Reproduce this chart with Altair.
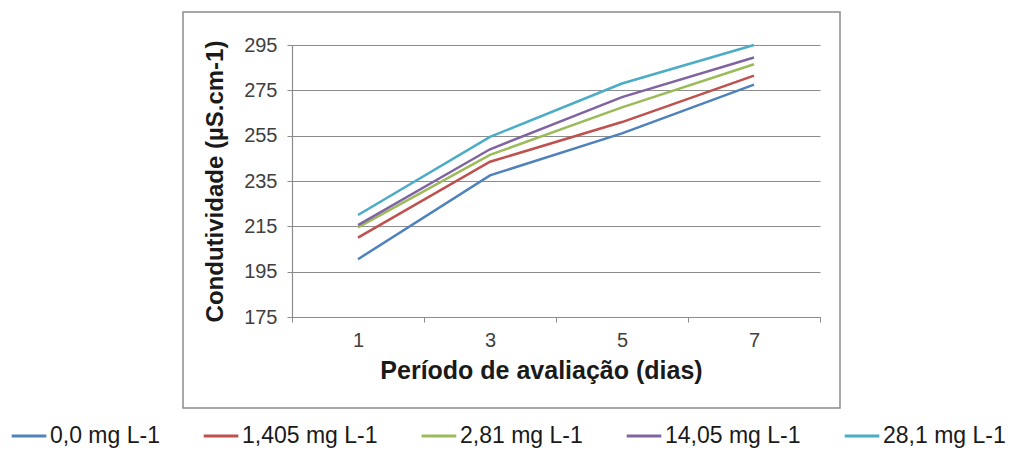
import altair as alt
import pandas as pd

days = [1, 3, 5, 7]
series_names = ["0,0 mg L-1", "1,405 mg L-1", "2,81 mg L-1", "14,05 mg L-1", "28,1 mg L-1"]
colors = ["#4F81BD", "#C0504D", "#9BBB59", "#8064A2", "#4BACC6"]
v_00 = [200.5, 237.5, 256.0, 277.5]
v_1405 = [210.0, 243.5, 261.0, 281.5]
v_281 = [214.5, 246.5, 267.5, 286.5]
v_1405b = [215.5, 249.0, 272.0, 289.5]
v_281b = [220.0, 254.5, 278.0, 295.0]
y_ticks = [175, 195, 215, 235, 255, 275, 295]

vals = [v_00, v_1405, v_281, v_1405b, v_281b]
rows = []
for name, vs in zip(series_names, vals):
    for d, v in zip(days, vs):
        rows.append({"dia": d, "cond": v, "serie": name})
df = pd.DataFrame(rows)

FONT = "Liberation Sans"

box = alt.Chart(pd.DataFrame({"a": [0]})).mark_rect(
    fill=None, stroke="#8c8c8c", strokeWidth=1.5
).encode(
    x=alt.value(-109), x2=alt.value(548), y=alt.value(-33), y2=alt.value(363)
)

lines = alt.Chart(df).mark_line(strokeWidth=2.5).encode(
    x=alt.X("dia:Q",
            scale=alt.Scale(domain=[0, 8], nice=False, zero=False),
            axis=alt.Axis(
                values=[0, 1, 2, 3, 4, 5, 6, 7, 8],
                labelExpr="datum.value % 2 == 1 ? datum.label : ''",
                tickOpacity={"condition": {"test": "datum.value % 2 == 0", "value": 1}, "value": 0},
                grid=False,
                title="Período de avaliação (dias)",
                titleFont=FONT, titleFontSize=25, titleFontWeight="bold", titleColor="#1a1a1a",
                titleX=249, titleY=61, titleBaseline="alphabetic", titleAlign="center",
                labelFont=FONT, labelFontSize=20, labelColor="#404040", labelPadding=8,
                tickSize=5, tickColor="#8c8c8c", domainColor="#8c8c8c", domainWidth=1.2,
            )),
    y=alt.Y("cond:Q",
            scale=alt.Scale(domain=[175, 295], nice=False, zero=False),
            axis=alt.Axis(
                values=y_ticks,
                title="Condutividade (µS.cm-1)",
                titleFont=FONT, titleFontSize=24, titleFontWeight="bold", titleColor="#1a1a1a",
                titlePadding=16,
                labelFont=FONT, labelFontSize=20, labelColor="#404040", labelPadding=10,
                tickSize=5, tickColor="#8c8c8c", domainColor="#8c8c8c", domainWidth=1.2,
                gridColor="#8c8c8c", gridWidth=1.2,
            )),
    color=alt.Color("serie:N",
                    scale=alt.Scale(domain=series_names, range=colors),
                    sort=series_names,
                    legend=alt.Legend(
                        title=None, orient="none", direction="horizontal",
                        legendX=-282, legendY=372,
                        symbolType="stroke", symbolSize=1200, symbolStrokeWidth=3,
                        labelFont=FONT, labelFontSize=23, labelColor="#1a1a1a",
                        labelOffset=2, columnPadding=37, columns=5,
                    )),
    detail="serie:N",
)

chart = alt.layer(box, lines).properties(
    width=528, height=272,
    autosize=alt.AutoSizeParams(type="none"),
    padding={"left": 292, "top": 45, "right": 195, "bottom": 136},
    background="white",
).configure_view(stroke=None)

chart.save("out.html", embed_options={"renderer": "svg", "actions": False})
